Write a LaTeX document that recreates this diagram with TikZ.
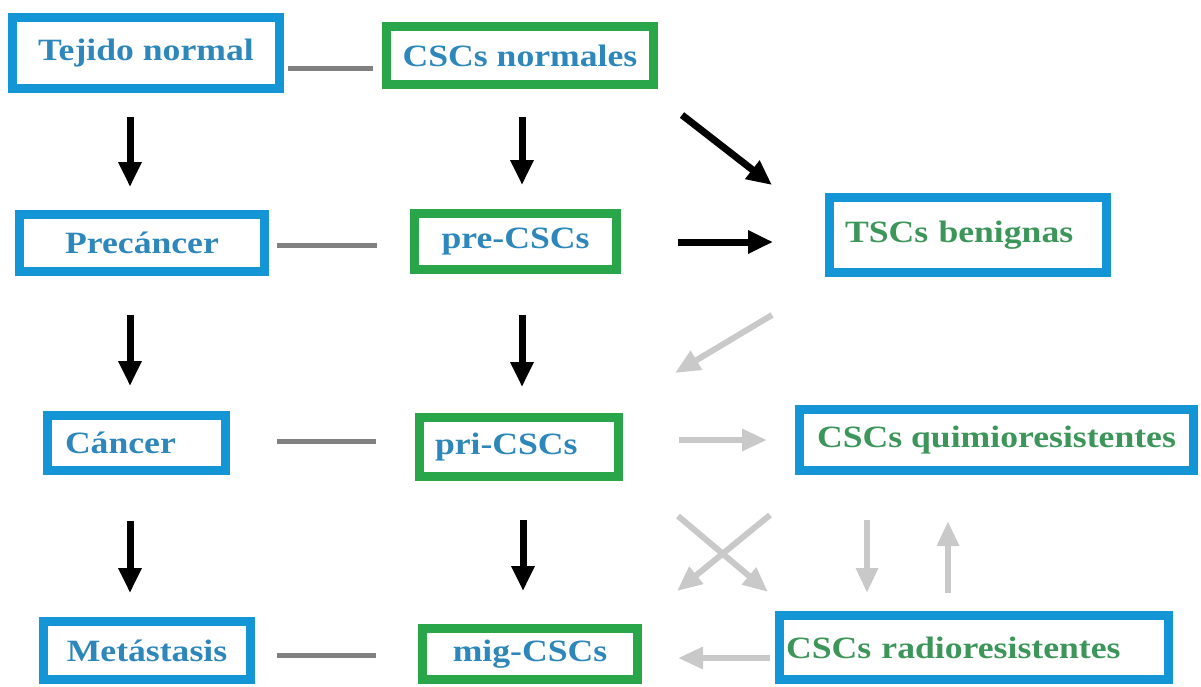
\documentclass[tikz,border=0pt]{standalone}
\usepackage{fontspec}
\setmainfont{Liberation Serif}[FakeStretch=1.15]
\usepackage{tikz}
\usetikzlibrary{arrows.meta}
\definecolor{mblue}{rgb}{0.08, 0.59, 0.84}
\definecolor{mgreen}{rgb}{0.16, 0.65, 0.29}
\definecolor{tblue}{rgb}{0.18, 0.53, 0.73}
\definecolor{tgreen}{rgb}{0.24, 0.59, 0.35}
\definecolor{mgrey}{rgb}{0.5, 0.5, 0.5}
\definecolor{lgrey}{rgb}{0.79, 0.79, 0.79}

\begin{document}
\begin{tikzpicture}[x=1pt, y=-1pt,
    box/.style={line width=9pt, inner sep=0pt, font=\bfseries\fontsize{31}{37}\selectfont},
    bluebox/.style={box, draw=mblue},
    greenbox/.style={box, draw=mgreen},
    lbox/.style={align=left, text width=#1},
    link/.style={draw=mgrey, line width=5pt},
    arr/.style={line width=7pt, -{Triangle[width=22pt,length=25pt]}},
    larr/.style={draw=lgrey, fill=lgrey, line width=6pt, -{Triangle[width=21pt,length=25pt]}}]
      \useasboundingbox (0,0) rectangle (1201,686);

      % left column
      \node [bluebox, text=tblue, minimum width=267, minimum height=71] (tej) at (146,53) {Tejido normal};
      \node [bluebox, text=tblue, minimum width=245, minimum height=57] (pre) at (142,243) {Precáncer};
      \node [bluebox, text=tblue, minimum width=178, minimum height=55, lbox=143pt, inner xsep=17.5pt] (can) at (136.5,443) {Cáncer};
      \node [bluebox, text=tblue, minimum width=207, minimum height=58] (met) at (147,650.5) {Metástasis};

      % middle column
      \node [greenbox, text=tblue, minimum width=267, minimum height=58] (csn) at (520,55.5) {CSCs normales};
      \node [greenbox, text=tblue, minimum width=202, minimum height=56] (prc) at (515.5,241.5) {pre-CSCs};
      \node [greenbox, text=tblue, minimum width=199, minimum height=59, lbox=168pt, inner xsep=15.5pt] (pri) at (519,447) {pri-CSCs};
      \node [greenbox, text=tblue, minimum width=215, minimum height=51] (mig) at (530,654) {mig-CSCs};

      % right column
      \node [bluebox, text=tgreen, minimum width=277, minimum height=75, lbox=246pt, inner xsep=15.5pt] (tsc) at (968,235) {TSCs benignas};
      \node [bluebox, text=tgreen, minimum width=394, minimum height=61] (qui) at (996.5,440) {CSCs quimioresistentes};
      \node [bluebox, text=tgreen, minimum width=389, minimum height=64, lbox=376pt, inner xsep=6.5pt] (rad) at (974,647.5) {CSCs radioresistentes};

      % links
      \draw [link, shorten <=4pt, shorten >=9pt] (tej.east |- 0,68) -- (csn.west |- 0,68);
      \draw [link, shorten <=8pt, shorten >=33pt] (pre.east |- 0,245) -- (prc.west |- 0,245);
      \draw [link, shorten <=47pt, shorten >=39pt] (can.east |- 0,441) -- (pri.west |- 0,441);
      \draw [link, shorten <=22pt, shorten >=42pt] (met.east |- 0,655) -- (mig.west |- 0,655);

      % black arrows
      \draw [arr, shorten <=24pt, shorten >=23pt] (tej.south -| 130,0) -- (pre.north -| 130,0);
      \draw [arr, shorten <=39pt, shorten >=25pt] (pre.south -| 130,0) -- (can.north -| 130,0);
      \draw [arr, shorten <=46pt, shorten >=24pt] (can.south -| 130,0) -- (met.north -| 130,0);
      \draw [arr, shorten <=28pt, shorten >=24pt] (csn.south -| 522,0) -- (prc.north -| 522,0);
      \draw [arr, shorten <=41pt, shorten >=26pt] (prc.south -| 522,0) -- (pri.north -| 522,0);
      \draw [arr, shorten <=39pt, shorten >=33pt] (pri.south -| 523,0) -- (mig.north -| 523,0);
      \draw [arr] ([shift={(24,26)}]csn.south east) -- ([shift={(-53,-8)}]tsc.north west);
      \draw [arr, shorten <=57pt, shorten >=52pt] (prc.east |- 0,242) -- (tsc.west |- 0,242);

      % grey arrows
      \draw [larr] ([shift={(-53,38)}]tsc.south west) -- ([shift={(52,-40)}]pri.north east);
      \draw [larr, shorten <=56pt, shorten >=28pt] (pri.east |- 0,440) -- (qui.west |- 0,440);
      \draw [larr] ([shift={(-25,40)}]qui.south west) -- ([shift={(35,-33)}]mig.north east);
      \draw [larr] ([shift={(55,35)}]pri.south east) -- ([shift={(-7,-19)}]rad.north west);
      \draw [larr, shorten <=45pt, shorten >=18pt] (qui.south -| 867,0) -- (rad.north -| 867,0);
      \draw [larr, shorten <=18pt, shorten >=46pt] (rad.north -| 948,0) -- (qui.south -| 948,0);
      \draw [larr, shorten <=5pt, shorten >=36pt] (rad.west |- 0,658) -- (mig.east |- 0,658);
\end{tikzpicture}
\end{document}
